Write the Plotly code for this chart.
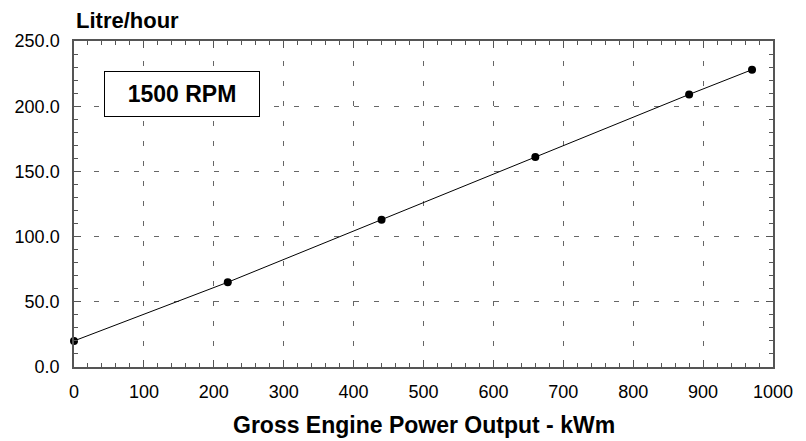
import plotly.graph_objects as go

power_kwm = [0, 220, 440, 660, 880, 970]
litre_per_hour = [20, 65, 113, 161, 209, 228]
x_ticks = [0, 100, 200, 300, 400, 500, 600, 700, 800, 900, 1000]
y_ticks = [0, 50, 100, 150, 200, 250]
y_tick_labels = ["0.0", "50.0", "100.0", "150.0", "200.0", "250.0"]

font = "Liberation Sans, Arial, Helvetica, sans-serif"

fig = go.Figure()
fig.add_trace(go.Scatter(
    x=power_kwm, y=litre_per_hour, mode="lines+markers",
    line=dict(color="black", width=1),
    marker=dict(color="black", size=8),
    cliponaxis=False, showlegend=False,
))

axis_common = dict(
    showline=True, linecolor="#555", linewidth=1.5, mirror="allticks",
    ticks="inside", ticklen=7, tickcolor="#555", tickwidth=1,
    showgrid=True, gridcolor="#666", gridwidth=1, griddash="5px,15px",
    zeroline=False, automargin=False,
    tickfont=dict(family=font, size=18, color="black"),
)

fig.update_xaxes(
    range=[0, 1000], tickvals=x_ticks, ticktext=[str(v) for v in x_ticks],
    minor=dict(ticks="inside", dtick=20, ticklen=4, tickcolor="#555", showgrid=False),
    ticklabelstandoff=8,
    **axis_common,
)
fig.update_yaxes(
    range=[0, 250], tickvals=y_ticks, ticktext=y_tick_labels,
    minor=dict(ticks="inside", dtick=10, ticklen=4, tickcolor="#555", showgrid=False),
    ticklabelstandoff=9,
    **axis_common,
)

fig.add_annotation(
    x=154, y=209.4, xref="x", yref="y",
    text="<b>1500 RPM</b>", showarrow=False,
    xanchor="center", yanchor="middle",
    font=dict(family=font, size=23, color="black"),
    bordercolor="black", borderwidth=1, borderpad=8,
    bgcolor="white", width=138, height=28,
)
fig.add_annotation(
    x=0, y=1.063, xref="paper", yref="paper",
    text="<b>Litre/hour</b>", showarrow=False,
    xanchor="left", yanchor="middle",
    font=dict(family=font, size=22, color="black"),
)
fig.add_annotation(
    x=0.5, y=-0.178, xref="paper", yref="paper",
    text="<b>Gross Engine Power Output - kWm</b>", showarrow=False,
    xanchor="center", yanchor="middle",
    font=dict(family=font, size=23, color="black"),
)

# The page body has an 8px default margin, so the figure is sized to fit the window.
fig.update_layout(
    width=798, height=433,
    margin=dict(l=66, r=33, t=33, b=74),
    paper_bgcolor="white", plot_bgcolor="white",
)

fig.write_html("out.html")
